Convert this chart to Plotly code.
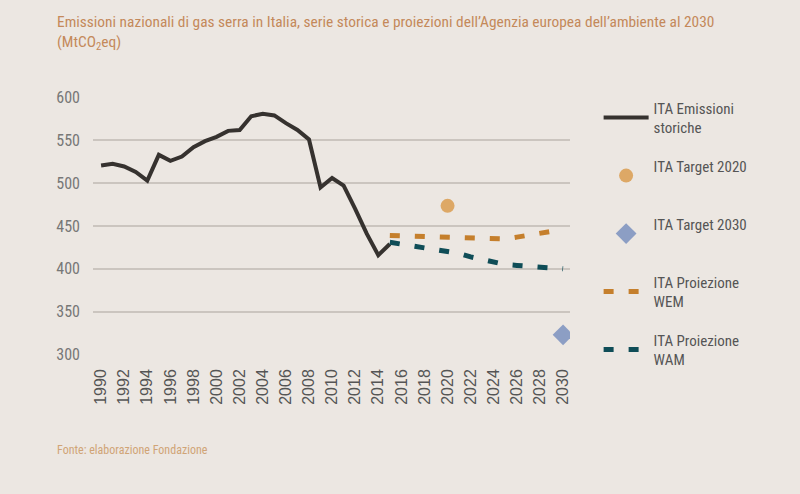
import plotly.graph_objects as go

# ---- data ----
years_hist = list(range(1990, 2016))
emissions_hist = [520.5, 522.5, 519.5, 513, 503, 533, 526, 531, 542, 549,
                  554, 561, 562, 578, 581, 579, 570, 562, 551, 495,
                  506, 497, 470, 441, 416, 429]

years_proj = list(range(2015, 2031))
wem_proj = [439, 438.5, 438, 438, 437.5, 437, 436.5, 436, 435.5, 435,
            435, 437, 439.5, 442, 444, 446]
wam_proj = [431, 429, 427, 425, 423, 421, 418, 414, 411, 408,
            405, 404, 403, 402, 401, 400]

target_2020_year = [2020]
target_2020_value = [473.5]
target_2030_year = [2030]
target_2030_value = [323]

x_ticks = list(range(1990, 2031, 2))
y_ticks = [300, 350, 400, 450, 500, 550, 600]

names = ["ITA Emissioni<br>storiche", "ITA Target 2020<br> ", "ITA Target 2030<br> ",
         "ITA Proiezione<br>WEM", "ITA Proiezione<br>WAM"]

title_text = ("Emissioni nazionali di gas serra in Italia, serie storica e proiezioni "
              "dell\u2019Agenzia europea dell\u2019ambiente al 2030<br>(MtCO<sub>2</sub>eq)")
source_text = "Fonte: elaborazione Fondazione"

# ---- style ----
BG = "#ECE7E2"
FONT = "Roboto Condensed, Liberation Sans Narrow, DejaVu Sans Condensed, sans-serif"
TAN = "#C4895A"

fig = go.Figure()
fig.add_trace(go.Scatter(x=years_hist, y=emissions_hist, mode="lines",
                         line=dict(color="#36322F", width=4),
                         name=names[0], legendgroup="a"))
fig.add_trace(go.Scatter(x=target_2020_year, y=target_2020_value, mode="markers",
                         marker=dict(color="#DDA866", size=14, symbol="circle"),
                         name=names[1], legendgroup="b"))
fig.add_trace(go.Scatter(x=target_2030_year, y=target_2030_value, mode="markers",
                         marker=dict(color="#8C9EC4", size=16, symbol="diamond"),
                         name=names[2], legendgroup="c"))
fig.add_trace(go.Scatter(x=years_proj, y=wem_proj, mode="lines",
                         line=dict(color="#C57F2C", width=5, dash="10px,15px"),
                         name=names[3], legendgroup="d"))
fig.add_trace(go.Scatter(x=years_proj, y=wam_proj, mode="lines",
                         line=dict(color="#0F4D57", width=5, dash="10px,15px"),
                         name=names[4], legendgroup="e"))

fig.update_layout(
    width=800, height=494,
    paper_bgcolor=BG, plot_bgcolor=BG,
    margin=dict(l=93, r=230, t=97, b=139),
    xaxis=dict(range=[1989.3, 2030.6], tickmode="array", tickvals=x_ticks,
               ticktext=[str(v) for v in x_ticks], tickangle=-90,
               showgrid=False, zeroline=False, showline=False, ticks="",
               ticklabelstandoff=10,
               tickfont=dict(family="Liberation Sans, Arial, sans-serif", size=16, color="#555555")),
    yaxis=dict(range=[299.5, 600.5], tickmode="array", tickvals=y_ticks,
               showgrid=True, gridcolor="#CBC5BF", gridwidth=1.5, zeroline=False,
               showline=False, ticks="", ticklabelstandoff=12,
               tickfont=dict(family=FONT, size=16, color="#777777")),
    legend=dict(x=1.06, y=1.021, xanchor="left", yanchor="top", bgcolor="rgba(0,0,0,0)",
                font=dict(family=FONT, size=15, color="#555555"),
                tracegroupgap=16, itemwidth=45, traceorder="grouped", maxheight=450),
    showlegend=True,
)

fig.add_annotation(text=title_text, xref="paper", yref="paper",
                   x=-0.0797, y=1.333, xanchor="left", yanchor="top", align="left",
                   showarrow=False, font=dict(family=FONT, size=15.4, color=TAN))
fig.add_annotation(text=source_text, xref="paper", yref="paper",
                   x=-0.0797, y=-0.37, xanchor="left", yanchor="middle",
                   showarrow=False, font=dict(family=FONT, size=12, color="#D0A476"))

fig.write_html("out.html", config={"displayModeBar": False},
               post_script="document.body.style.margin='0';")
